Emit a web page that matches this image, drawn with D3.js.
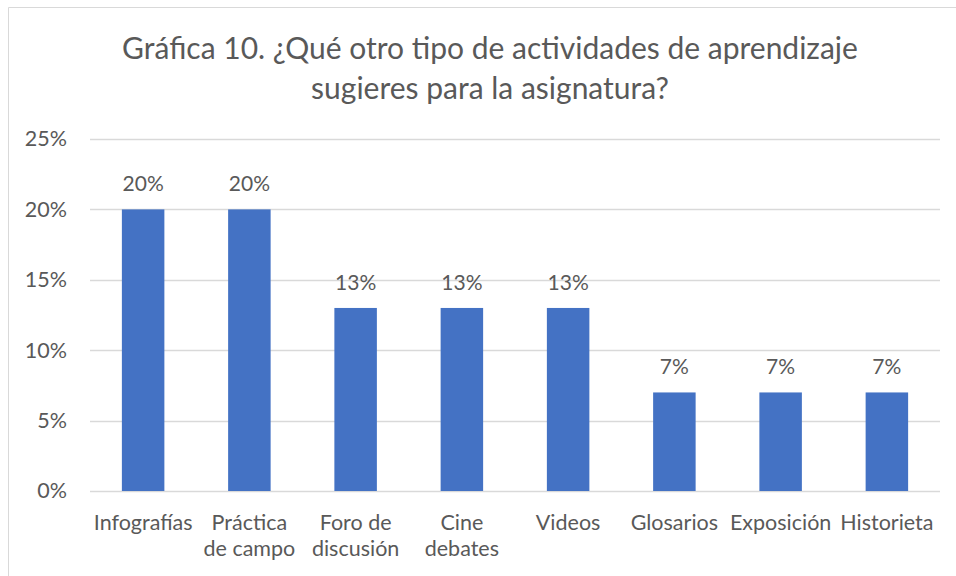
<!DOCTYPE html>
<html>
<head>
<meta charset="utf-8">
<script src="https://cdn.jsdelivr.net/npm/d3@7"></script>
<style>
  body { margin: 0; background: #fff; }
  text { font-family: Lato, "Open Sans", sans-serif; fill: #595959; }
</style>
</head>
<body>
<div id="chart"></div>
<script>
// data
var categories = [["Infografías"], ["Práctica", "de campo"], ["Foro de", "discusión"], ["Cine", "debates"],
                  ["Videos"], ["Glosarios"], ["Exposición"], ["Historieta"]];
var values = [0.20, 0.20, 0.13, 0.13, 0.13, 0.07, 0.07, 0.07];
var yTicks = [0, 0.05, 0.10, 0.15, 0.20, 0.25];
var titleLines = ["Gráfica 10. ¿Qué otro tipo de actividades de aprendizaje", "sugieres para la asignatura?"];

var width = 956, height = 576;
var margin = { top: 139, right: 16, bottom: 85, left: 90 };

var svg = d3.select("#chart")
    .append("svg")
    .attr("width", width)
    .attr("height", height);

// chart border
svg.append("path")
    .attr("d", "M8.5," + height + " V7.5 H" + width)
    .attr("fill", "none")
    .attr("stroke", "#d9d9d9")
    .attr("stroke-width", 1);

svg.selectAll(".title")
    .data(titleLines)
    .enter()
    .append("text")
    .attr("class", "title")
    .attr("x", 490)
    .attr("y", function (d, i) { return 59 + i * 40 })
    .attr("text-anchor", "middle")
    .attr("font-size", "30px")
    .text(function (d) { return d });

var keys = categories.map(function (d) { return d.join(" ") });

var x = d3.scaleBand()
    .domain(keys)
    .range([margin.left, width - margin.right])
    .paddingInner(0.6)
    .paddingOuter(0.3);

var y = d3.scaleLinear()
    .domain([0, 0.25])
    .range([height - margin.bottom, margin.top]);

// grid lines
svg.append("g")
    .selectAll("line")
    .data(yTicks)
    .enter()
    .append("line")
    .attr("x1", margin.left)
    .attr("x2", width - margin.right)
    .attr("y1", function (d) { return Math.round(y(d)) + 0.5 })
    .attr("y2", function (d) { return Math.round(y(d)) + 0.5 })
    .attr("stroke", "#d9d9d9")
    .attr("stroke-width", 1.5);

var yAxis = svg.append("g")
    .attr("transform", "translate(" + (margin.left - 23) + ",0)")
    .call(d3.axisLeft(y).tickValues(yTicks).tickFormat(d3.format(".0%")).tickSize(0).tickPadding(0));
yAxis.select(".domain").remove();
yAxis.selectAll("text")
    .attr("font-size", "21.5px")
    .attr("fill", "#595959")
    .style("font-family", "Lato, 'Open Sans', sans-serif");

svg.append("g")
    .selectAll("rect")
    .data(values)
    .enter()
    .append("rect")
    .attr("x", function (d, i) { return x(keys[i]) })
    .attr("width", x.bandwidth())
    .attr("y", function (d) { return y(d) })
    .attr("height", function (d) { return y(0) - y(d) })
    .attr("fill", "#4472c4");

svg.append("g")
    .selectAll("text")
    .data(values)
    .enter()
    .append("text")
    .attr("x", function (d, i) { return x(keys[i]) + x.bandwidth() / 2 })
    .attr("y", function (d) { return y(d) - 18 })
    .attr("text-anchor", "middle")
    .attr("font-size", "21px")
    .attr("fill", "#404040")
    .text(d3.format(".0%"));

var catG = svg.append("g")
    .selectAll("text")
    .data(categories)
    .enter()
    .append("text")
    .attr("text-anchor", "middle")
    .attr("font-size", "21.5px")
    .attr("x", function (d, i) { return x(keys[i]) + x.bandwidth() / 2 })
    .attr("y", 530);

catG.selectAll("tspan")
    .data(function (d) { return d })
    .enter()
    .append("tspan")
    .attr("x", function () { return d3.select(this.parentNode).attr("x") })
    .attr("dy", function (d, i) { return i === 0 ? 0 : 26 })
    .text(function (d) { return d });
</script>
</body>
</html>
